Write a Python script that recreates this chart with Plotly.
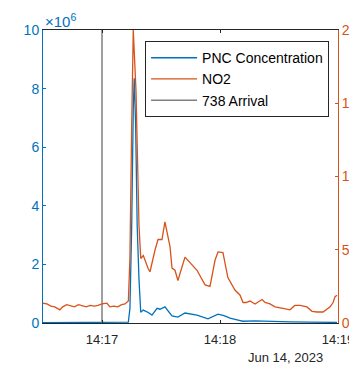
import plotly.graph_objects as go
import pandas as pd

START = "2023-06-14 14:16:30"
END = "2023-06-14 14:19:00"

# seconds after 14:16:30
pnc_t = [0, 10, 20, 30, 40, 42.5, 43.4, 44.2, 45.1, 45.9, 46.4, 47.1, 47.9, 48.8, 49.7, 51,
         53.5, 55.4, 58, 59.5, 62, 65.6, 68.6, 72.2, 75, 78.3, 83.9, 89, 92, 95.1, 99.2,
         101.7, 107.8, 115.4, 125.6, 135.8, 149.5]
pnc_v = [0.01, 0.01, 0.01, 0.01, 0.01, 0.01, 0.03, 0.5, 3.3, 7.3, 8.35, 6.75, 3.3, 1.5, 0.37, 0.44,
         0.36, 0.27, 0.5, 0.47, 0.55, 0.24, 0.2, 0.34, 0.3, 0.27, 0.14, 0.3, 0.25, 0.17, 0.1,
         0.06, 0.07, 0.05, 0.04, 0.03, 0.02]  # x 1e6

no2_t = [0, 2, 4, 6, 8.6, 10, 12, 14, 16, 18, 20, 22, 24, 26, 28, 30, 32.5, 34, 36, 38, 40, 41.7,
         43.4, 44.2, 45.1, 45.9, 47.3, 47.9, 48.8, 49.7, 51, 53.5, 54.4, 57, 58.5, 60.5, 62,
         64.6, 65.6, 67.1, 68.6, 72.2, 74.7, 78.3, 82.4, 84.9, 87.5, 89, 91.5, 94, 97.6, 100.2,
         101.7, 103.2, 105.3, 107.8, 111.4, 112.9, 115.4, 118, 122, 125.6, 128, 130.7, 134.2,
         136.8, 139.3, 142.4, 146, 147.5, 148.5, 149.5]
no2_v = [13.5, 13, 11.5, 11, 9, 11, 12.5, 12, 11, 12.5, 12, 11, 12, 11.5, 12, 13, 13.5, 11, 11.5,
         11, 12.5, 13,
         15, 44, 135, 200, 158, 113, 67, 44, 46, 37, 35, 50, 57, 57, 69,
         52, 37.5, 36, 29, 45, 41, 36, 26, 25, 43, 48.5, 48, 31, 22.5, 19,
         14, 14, 15, 13, 16, 14, 13, 11, 10, 9, 12, 12, 11,
         8, 7.5, 7.5, 11, 14, 18, 19]

arrival_t = 30  # 14:17:00
pnc_range = [0, 10]
no2_range = [0, 200]
left_ticks = [0, 2, 4, 6, 8, 10]
right_ticks = [0, 50, 100, 150, 200]
x_ticks = ["2023-06-14 14:17:00", "2023-06-14 14:18:00", "2023-06-14 14:19:00"]

base = pd.Timestamp(START)
to_time = lambda secs: [base + pd.Timedelta(seconds=s) for s in secs]

BLUE = "#0072BD"
ORANGE = "#D95319"
GRAY = "#808080"
DARK = "#262626"
FONT = "Liberation Sans, Arial, sans-serif"

fig = go.Figure()
fig.add_trace(go.Scatter(x=to_time(pnc_t), y=[v * 1e6 for v in pnc_v], mode="lines",
                         name="PNC Concentration", line=dict(color=BLUE, width=1.3)))
fig.add_trace(go.Scatter(x=to_time(no2_t), y=no2_v, mode="lines", name="NO2",
                         line=dict(color=ORANGE, width=1.3), yaxis="y2"))
fig.add_trace(go.Scatter(x=to_time([arrival_t, arrival_t]), y=[pnc_range[0] * 1e6, pnc_range[1] * 1e6],
                         mode="lines", name="738 Arrival", line=dict(color=GRAY, width=1.5)))

fig.update_layout(
    width=349, height=367,
    margin=dict(l=43, r=11, t=30, b=44, autoexpand=False),
    paper_bgcolor="white", plot_bgcolor="white",
    font=dict(family=FONT, size=13, color=DARK),
    showlegend=True,
    legend=dict(x=0.346, y=0.962, xanchor="left", yanchor="top",
                bgcolor="white", bordercolor=DARK, borderwidth=1,
                font=dict(size=14, color="black"), itemwidth=46,
                tracegroupgap=0),
    xaxis=dict(type="date", range=[START, END],
               tickvals=x_ticks, tickformat="%H:%M", automargin=False,
               ticklabeloverflow="allow", ticklabelstandoff=4,
               showline=True, linecolor=DARK, linewidth=1, mirror="ticks",
               ticks="inside", ticklen=3, tickcolor=DARK,
               showgrid=False, zeroline=False,
               tickfont=dict(size=13, color=DARK)),
    yaxis=dict(range=[v * 1e6 for v in pnc_range], automargin=False,
               tickvals=[v * 1e6 for v in left_ticks], ticktext=[str(v) for v in left_ticks],
               showline=True, linecolor=BLUE, linewidth=1,
               ticks="inside", ticklen=3, tickcolor=BLUE,
               showgrid=False, zeroline=False,
               tickfont=dict(size=14, color=BLUE)),
    yaxis2=dict(range=no2_range, overlaying="y", side="right", automargin=False,
                ticklabeloverflow="allow",
                tickvals=right_ticks, ticktext=[str(v) for v in right_ticks],
                showline=True, linecolor=ORANGE, linewidth=1,
                ticks="inside", ticklen=3, tickcolor=ORANGE,
                showgrid=False, zeroline=False,
                tickfont=dict(size=14, color=ORANGE)),
    annotations=[
        dict(text="×10<sup>6</sup>", xref="paper", yref="paper", x=0.0, y=1.0,
             xanchor="left", yanchor="bottom", showarrow=False, yshift=-2,
             font=dict(size=15, color=BLUE, family=FONT)),
        dict(text="Jun 14, 2023", xref="paper", yref="paper", x=0.956, y=-0.119,
             xanchor="right", yanchor="middle", showarrow=False,
             font=dict(size=13, color=DARK, family=FONT)),
    ],
)

fig.write_html("out.html")
